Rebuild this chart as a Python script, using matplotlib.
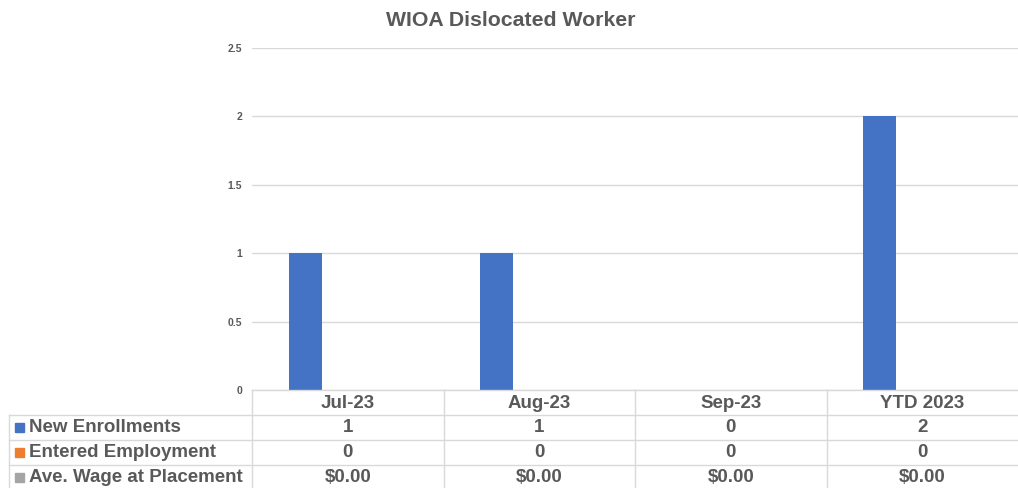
import matplotlib
matplotlib.use("Agg")
import matplotlib.pyplot as plt
from matplotlib.patches import Rectangle
from matplotlib.lines import Line2D

# data
categories = ["Jul-23", "Aug-23", "Sep-23", "YTD 2023"]
series_names = ["New Enrollments", "Entered Employment", "Ave. Wage at Placement"]
new_enrollments = [1, 1, 0, 2]
entered_employment = [0, 0, 0, 0]
ave_wage = [0.0, 0.0, 0.0, 0.0]
series_colors = ["#4472C4", "#ED7D31", "#A5A5A5"]
yticks = [0, 0.5, 1, 1.5, 2, 2.5]

W, H = 1018, 488
TXT = "#595959"
GRID = "#D9D9D9"
plt.rcParams["font.family"] = ["Liberation Sans", "DejaVu Sans"]

fig = plt.figure(figsize=(W / 100, H / 100), dpi=100)
fig.patch.set_facecolor("white")


def fx(px):
    return px / W


def fy(py):
    return 1 - py / H


x0, x1 = 252, 1018
y_top, y_zero = 48, 390
ax = fig.add_axes([fx(x0), fy(y_zero), fx(x1 - x0), (y_zero - y_top) / H])
ax.set_xlim(0, len(categories))
ax.set_ylim(0, 2.5)

# bars: three series per category, only first one visible (others are zero)
values = [new_enrollments, entered_employment, ave_wage]
bw = 0.172
offsets = [-0.221, -0.221 + bw, -0.221 + 2 * bw]
for vals, off, col in zip(values, offsets, series_colors):
    ax.bar([i + 0.5 + off for i in range(len(categories))], vals, width=bw,
           color=col, zorder=3)

ax.set_yticks(yticks)
ax.set_yticklabels([f"{t:g}" for t in yticks], fontsize=7.5, fontweight="bold", color=TXT)
ax.tick_params(axis="y", length=0, pad=7)
ax.set_xticks([])
ax.grid(axis="y", color=GRID, linewidth=1, zorder=0)
for s in ax.spines.values():
    s.set_visible(False)

fig.text(fx(511), fy(20), "WIOA Dislocated Worker", fontsize=15.3, fontweight="bold",
         color=TXT, ha="center", va="center")

# data table under the axis
row_h = 25
rows_y = [390, 415, 440, 465, 490]
col_x = [x0 + i * (x1 - x0) / len(categories) for i in range(len(categories) + 1)]
left_x = 9
FS = 13.5

lw = 1
# horizontal lines
fig.add_artist(Line2D([fx(x0), fx(x1)], [fy(390), fy(390)], color=GRID, lw=lw))
for yy in rows_y[1:]:
    fig.add_artist(Line2D([fx(left_x), fx(x1)], [fy(yy), fy(yy)], color=GRID, lw=lw))
# vertical lines
fig.add_artist(Line2D([fx(left_x), fx(left_x)], [fy(415), fy(490)], color=GRID, lw=lw))
for cx in col_x[:-1]:
    fig.add_artist(Line2D([fx(cx), fx(cx)], [fy(390), fy(490)], color=GRID, lw=lw))

# header
for i, c in enumerate(categories):
    cx = (col_x[i] + col_x[i + 1]) / 2
    fig.text(fx(cx), fy(403), c, fontsize=FS, fontweight="bold", color=TXT,
             ha="center", va="center")

row_text = [
    [f"{v:g}" for v in new_enrollments],
    [f"{v:g}" for v in entered_employment],
    [f"${v:,.2f}" for v in ave_wage],
]
for r, (name, col, txts) in enumerate(zip(series_names, series_colors, row_text)):
    yc = rows_y[r + 1] + row_h / 2
    fig.add_artist(Rectangle((fx(15), fy(yc + 4.5)), fx(9), 9 / H, color=col,
                             transform=fig.transFigure))
    fig.text(fx(29), fy(yc), name, fontsize=FS, fontweight="bold", color=TXT,
             ha="left", va="center")
    for i, t in enumerate(txts):
        cx = (col_x[i] + col_x[i + 1]) / 2
        fig.text(fx(cx), fy(yc), t, fontsize=FS, fontweight="bold", color=TXT,
                 ha="center", va="center")

fig.savefig("out.png", dpi=100, facecolor="white")
